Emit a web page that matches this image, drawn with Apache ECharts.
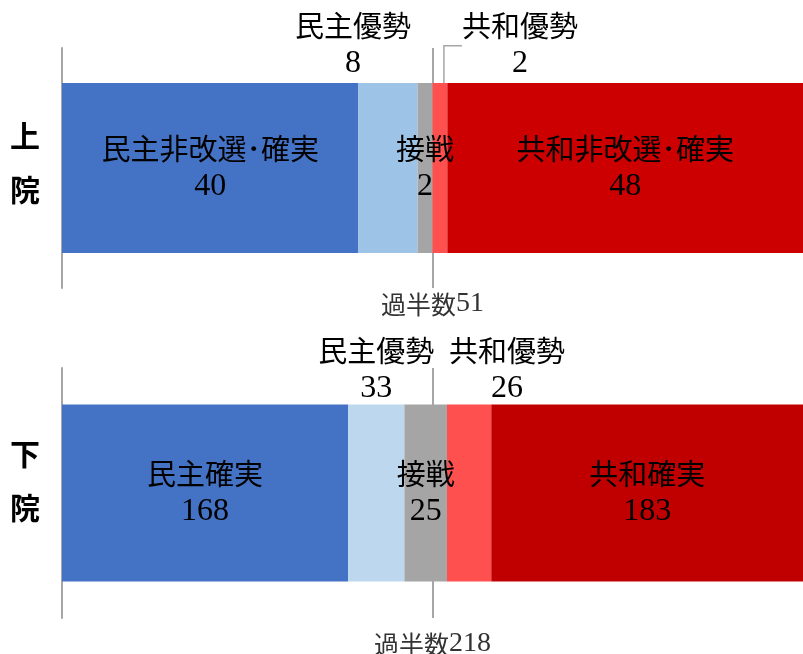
<!DOCTYPE html>
<html>
<head>
<meta charset="utf-8">
<title>上院・下院 情勢</title>
<script src="https://cdn.jsdelivr.net/npm/echarts@6/dist/echarts.min.js"></script>
<style>
  html, body { margin: 0; padding: 0; background: #fff; }
  #chart { width: 803px; height: 654px; }
</style>
</head>
<body>
<div id="chart"></div>
<script>
// Seats by outlook, from safe Democrat on the left to safe Republican on the right
const chambers = ['上院', '下院'];
const senateSegments = ['民主非改選･確実', '民主優勢', '接戦', '共和優勢', '共和非改選･確実'];
const senateSeats = [40, 8, 2, 2, 48];
const houseSegments = ['民主確実', '民主優勢', '接戦', '共和優勢', '共和確実'];
const houseSeats = [168, 33, 25, 26, 183];
const majorities = [51, 218];

const CJK = '"Noto Sans CJK JP", "Noto Sans CJK SC", sans-serif';
const NUM = '"Liberation Serif", "DejaVu Serif", serif';

const sum = arr => arr.reduce((a, b) => a + b, 0);

// Per-chamber drawing settings
const layouts = [
  {
    grid: { left: 62, right: -4, top: 48, height: 240 },
    barWidth: 170,
    colors: ['#4472C4', '#9DC3E6', '#A5A5A5', '#FF5050', '#CC0000'],
    // label placement for each segment: inside, or above the bar with a sideways shift
    labels: [
      { position: 'inside' },
      { position: 'top', offset: [-35, 0] },
      { position: 'inside' },
      { position: 'top', guideShift: 80 },
      { position: 'inside' }
    ],
    rowLabelLift: 11,
    majorityLabelGap: 2
  },
  {
    grid: { left: 62, right: -4, top: 368, height: 250 },
    barWidth: 177,
    colors: ['#4472C4', '#BDD7EE', '#A5A5A5', '#FF5050', '#C00000'],
    labels: [
      { position: 'inside' },
      { position: 'top', offset: [0, 3] },
      { position: 'inside' },
      { position: 'top', offset: [38, 3] },
      { position: 'inside' }
    ],
    rowLabelLift: 25,
    majorityLabelGap: 12
  }
];

const richText = {
  n: { fontFamily: CJK, fontSize: 29, lineHeight: 38, color: '#000' },
  v: { fontFamily: NUM, fontSize: 32, lineHeight: 38, color: '#000' }
};

const chamberData = [
  { names: senateSegments, seats: senateSeats },
  { names: houseSegments, seats: houseSeats }
];

const grids = [], xAxes = [], yAxes = [], series = [];

chamberData.forEach((ch, ci) => {
  const lay = layouts[ci];
  const total = sum(ch.seats);
  grids.push(lay.grid);
  xAxes.push({
    gridIndex: ci, type: 'value', min: 0, max: total, show: false
  });
  yAxes.push({
    gridIndex: ci, type: 'category', data: [chambers[ci]],
    axisLine: { show: true, lineStyle: { color: '#A6A6A6', width: 2 } },
    axisTick: { show: false },
    splitLine: { show: false },
    axisLabel: {
      margin: 22,
      // one character per line, with a blank spacer line below to lift the pair
      formatter: v => v.split('').map(c => '{c|' + c + '}').join('\n') + '\n{s| }',
      rich: {
        c: { fontFamily: CJK, fontSize: 30, fontWeight: 'bold', lineHeight: 54, color: '#000' },
        s: { fontSize: 1, lineHeight: lay.rowLabelLift }
      }
    }
  });

  ch.names.forEach((name, si) => {
    const lc = lay.labels[si];
    const s = {
      type: 'bar',
      name: name,
      stack: 'chamber' + ci,
      xAxisIndex: ci, yAxisIndex: ci,
      barWidth: lay.barWidth,
      z: 10,
      itemStyle: { color: lay.colors[si] },
      data: [ch.seats[si]],
      label: {
        show: true,
        position: lc.position,
        distance: 0,
        offset: lc.offset || [0, 0],
        align: 'center',
        formatter: p => '{n|' + p.seriesName + '}\n{v|' + p.value + '}',
        rich: richText
      },
      emphasis: { disabled: true }
    };
    if (lc.guideShift) {
      // label set off to the right of its thin segment, tied back with a leader line
      const shift = lc.guideShift;
      s.labelLayout = p => ({
        x: p.rect.x + p.rect.width / 2 + shift,
        y: p.rect.y,
        align: 'center',
        verticalAlign: 'bottom'
      });
      s.labelLine = {
        show: true, length2: 18, minTurnAngle: 90,
        lineStyle: { color: '#A6A6A6', width: 1.5 }
      };
    }
    series.push(s);
  });

  // Majority line at the half-way point of the chamber, kept behind the bars
  series.push({
    type: 'line',
    xAxisIndex: ci, yAxisIndex: ci,
    data: [],
    z: 1,
    silent: true,
    markLine: {
      silent: true,
      z: 1,
      symbol: ['none', 'none'],
      lineStyle: { color: '#A6A6A6', width: 2, type: 'solid' },
      label: {
        show: true,
        position: 'start',
        distance: lay.majorityLabelGap,
        formatter: '{a|過半数}{b|' + majorities[ci] + '}',
        rich: {
          a: { fontFamily: CJK, fontSize: 25, color: '#333' },
          b: { fontFamily: NUM, fontSize: 28, color: '#333' }
        }
      },
      data: [{ xAxis: total / 2 }]
    }
  });
});

const chart = echarts.init(document.getElementById('chart'), null, { renderer: 'canvas' });
chart.setOption({
  animation: false,
  backgroundColor: '#fff',
  grid: grids,
  xAxis: xAxes,
  yAxis: yAxes,
  series: series
});
</script>
</body>
</html>
